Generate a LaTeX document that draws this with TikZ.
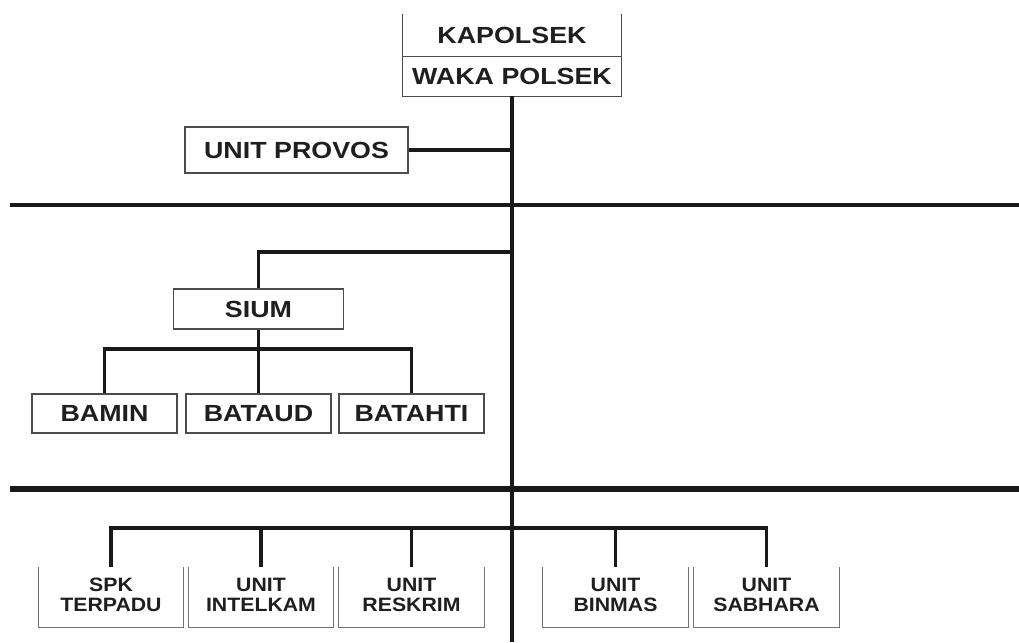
\documentclass[tikz,border=0pt]{standalone}
\usepackage{fontspec}
\setmainfont{Liberation Sans}
\usepackage{graphicx}
\newcommand{\stretchtxt}[1]{\scalebox{1.15}[1]{#1}}
\newcommand{\stretchtwo}[2]{\scalebox{1.1}[1]{\begin{tabular}{@{}c@{}}#1\\#2\end{tabular}}}
\begin{document}
\begin{tikzpicture}[x=0.75pt,y=-0.75pt,
  bigtext/.style={font=\fontsize{17.5}{19}\selectfont\bfseries, text=black!88},
  smalltext/.style={font=\fontsize{14.5}{15}\selectfont\bfseries, text=black!88},
  boxed/.style={draw=black!70, line width=1.1pt, inner sep=0pt},
  plain/.style={inner sep=0pt},
  openbox/.style={draw=black!55, line width=0.8pt},
  conn/.style={line width=2.3pt, black!90},
  rule/.style={line width=3.3pt, black!90}]
\useasboundingbox (0,0) rectangle (1019,642);
\fill[white] (0,0) rectangle (1019,642);

% top box (no top edge)
\node[plain, bigtext, minimum width=163.5pt, minimum height=31.5pt] (kap) at (512,35) {\stretchtxt{KAPOLSEK}};
\node[plain, bigtext, minimum width=163.5pt, minimum height=30pt] (waka) at (512,76) {\stretchtxt{WAKA POLSEK}};
\draw[draw=black!70, line width=1.1pt] (kap.north west) -- (waka.south west) -- (waka.south east) -- (kap.north east);
\draw[draw=black!70, line width=1.1pt] (kap.south west) -- (kap.south east);

% main vertical
\coordinate (mainend) at (512,642);
\draw[conn] (waka.south) -- (mainend);

% provos
\node[boxed, bigtext, minimum width=167.25pt, minimum height=34.5pt] (provos) at (296.5,150) {\stretchtxt{UNIT PROVOS}};
\draw[conn] (provos.east) -- (provos.east -| waka.south);

% horizontal rules
\coordinate (r1a) at (10,205);
\coordinate (r1b) at (1019,205);
\draw[rule] (r1a) -- (r1b);
\coordinate (r2a) at (10,489);
\coordinate (r2b) at (1019,489);
\draw[rule, line width=3.8pt] (r2a) -- (r2b);

% sium group
\node[boxed, bigtext, minimum width=127.5pt, minimum height=30pt] (sium) at (258.5,309) {\stretchtxt{SIUM}};
\coordinate (siumj) at (512,252);
\draw[conn] (siumj) -| (sium.north);
\node[boxed, bigtext, minimum width=108.75pt, minimum height=29.25pt] (bamin) at (104.5,413.5) {\stretchtxt{BAMIN}};
\node[boxed, bigtext, minimum width=108.75pt, minimum height=29.25pt] (bataud) at (258.5,413.5) {\stretchtxt{BATAUD}};
\node[boxed, bigtext, minimum width=108.75pt, minimum height=29.25pt] (batahti) at (411.5,413.5) {\stretchtxt{BATAHTI}};
\coordinate (sbus) at (258.5,349);
\draw[conn] (sium.south) -- (bataud.north);
\draw[conn] (bamin.north) |- (sbus) -| (batahti.north);

% bottom units (open top boxes)
\coordinate (bj) at (512,528);
\foreach \n/\x/\a/\b in {spk/111/SPK/TERPADU, intelkam/261/UNIT/INTELKAM, reskrim/411.5/UNIT/RESKRIM, binmas/615.5/UNIT/BINMAS, sabhara/766.5/UNIT/SABHARA}{
  \node[plain, smalltext, minimum width=108.5pt, minimum height=45pt] (\n) at (\x,597) {\stretchtwo{\a}{\b}};
  \draw[openbox] (\n.north west) -- (\n.south west) -- (\n.south east) -- (\n.north east);
}
\draw[conn] (spk.north) |- (bj);
\draw[conn] (sabhara.north) |- (bj);
\draw[conn] (intelkam.north) -- (intelkam.north |- bj);
\draw[conn] (reskrim.north) -- (reskrim.north |- bj);
\draw[conn] (binmas.north) -- (binmas.north |- bj);
\end{tikzpicture}
\end{document}
